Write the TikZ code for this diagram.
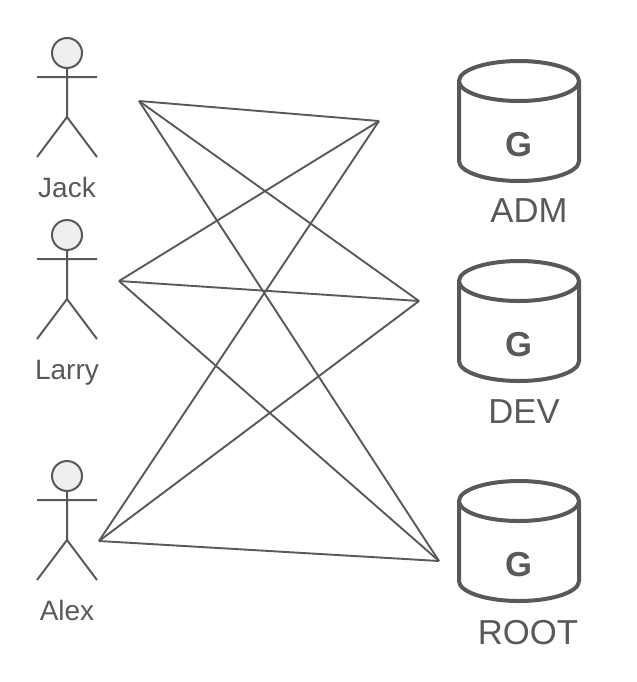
\documentclass[tikz,border=0pt]{standalone}
\usepackage{fontspec}
\setmainfont{Liberation Sans}
\definecolor{ink}{HTML}{595959}
\definecolor{headfill}{HTML}{EEEEEE}
\tikzset{
  link/.style={draw=ink,line width=1.9*0.75pt},
  actorline/.style={draw=ink,line width=2*0.75pt},
  cyl/.style={draw=ink,line width=4*0.75pt,fill=white,line join=round},
  actorlabel/.style={text=ink,inner sep=0pt,anchor=base,font=\fontsize{21}{25}\selectfont},
  dblabel/.style={text=ink,inner sep=0pt,anchor=base,font=\fontsize{26}{30}\selectfont},
  glabel/.style={text=ink,inner sep=0pt,font=\fontsize{26}{30}\selectfont\bfseries}
}
\newcommand{\actor}[1]{% y offset
  \begin{scope}[yshift=#1*-0.75pt]
    \draw[actorline,fill=headfill] (67,53) circle[radius=15];
    \draw[actorline] (67,68) -- (67,117) (37,77) -- (97,77) (37,157) -- (67,117) -- (97,157);
  \end{scope}
}
\newcommand{\database}[1]{% y offset
  \begin{scope}[yshift=#1*-0.75pt]
    \draw[cyl] (459,81) -- (459,161) .. controls (459,172) and (486,181) .. (519,181) .. controls (552,181) and (579,172) .. (579,161) -- (579,81);
    \draw[cyl] (519,81) ellipse[x radius=60,y radius=20];
  \end{scope}
}
\begin{document}
\begin{tikzpicture}[x=0.75pt,y=-0.75pt]
\useasboundingbox (0,0) rectangle (636,682);
\actor{0}
\actor{182}
\actor{423}
\node[actorlabel] (jacklabel) at (67,197) {Jack};
\node[actorlabel] (larrylabel) at (67,379) {Larry};
\node[actorlabel] (alexlabel) at (67,620) {Alex};
\database{0}
\database{200}
\database{420}
\node[glabel] (g1) at (519,145) {G};
\node[glabel] (g2) at (519,345) {G};
\node[glabel] (g3) at (519,565) {G};
\node[dblabel] (adm) at (529,222) {ADM};
\node[dblabel] (dev) at (524,423) {DEV};
\node[dblabel] (root) at (528,644) {ROOT};
\coordinate (j) at (139,101);
\coordinate (l) at (119,281);
\coordinate (a) at (99,541);
\coordinate (t1) at (379,121);
\coordinate (t2) at (419,301);
\coordinate (t3) at (439,561);
\foreach \s in {j,l,a}{\foreach \t in {t1,t2,t3}{\draw[link] (\s) -- (\t);}}
\end{tikzpicture}
\end{document}
